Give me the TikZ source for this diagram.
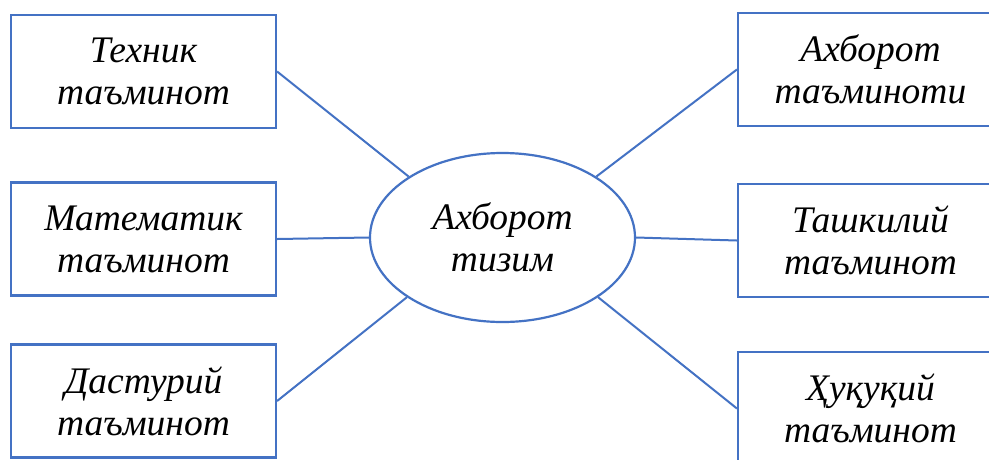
\documentclass[tikz,border=0pt]{standalone}
\usepackage{fontspec}
\setmainfont{Liberation Serif}
\usetikzlibrary{shapes.geometric}
\definecolor{lineblue}{HTML}{4472C4}
\tikzset{
  box/.style={draw=lineblue, line width=2.2pt, minimum width=265pt, minimum height=113pt, inner sep=0pt, align=center, font=\fontsize{37.5}{42}\selectfont\itshape},
  hub/.style={ellipse, draw=lineblue, line width=2.2pt, minimum width=265pt, minimum height=169pt, inner sep=0pt, align=center, font=\fontsize{37.5}{42}\selectfont\itshape},
  link/.style={draw=lineblue, line width=2pt}
}
\begin{document}
\begin{tikzpicture}[x=1pt,y=-1pt]
\clip (0,0) rectangle (989,459);
\fill[white] (0,0) rectangle (989,459);
\node[box] (tl) at (143.5,71.5) {Техник\\таъминот};
\node[box] (ml) at (143.5,239) {Математик\\таъминот};
\node[box] (bl) at (143.5,401) {Дастурий\\таъминот};
\node[box] (tr) at (870.5,69.5) {Ахборот\\таъминоти};
\node[box] (mr) at (870.5,240.5) {Ташкилий\\таъминот};
\node[box] (br) at (870.5,408.5) {Ҳуқуқий\\таъминот};
\node[hub] (e) at (502.5,237.5) {Ахборот\\тизим};
\draw[link] (tl.east) -- (e.147);
\draw[link] (ml.east) -- (e.180);
\draw[link] (bl.east) -- (e.212);
\draw[link] (tr.west) -- (e.33);
\draw[link] (mr.west) -- (e.0);
\draw[link] (br.west) -- (e.328);
\end{tikzpicture}
\end{document}
